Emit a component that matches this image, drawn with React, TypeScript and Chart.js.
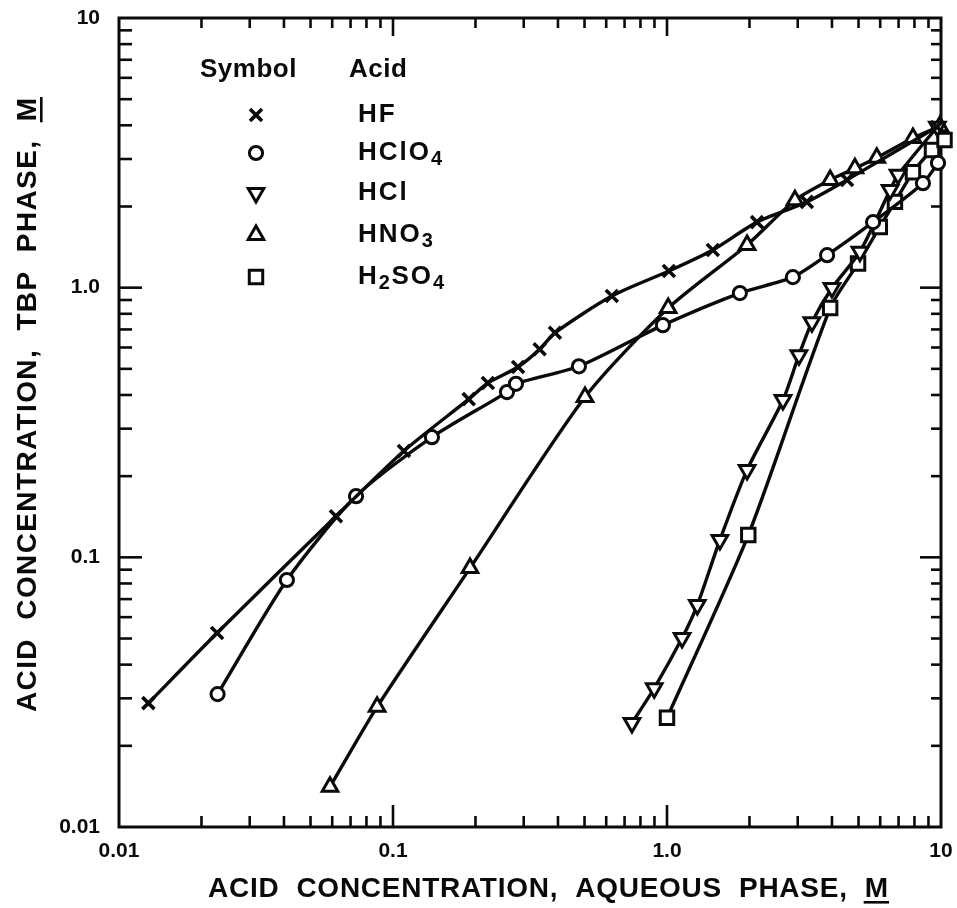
import React, { useEffect, useRef } from 'react';
import { Chart, registerables } from 'chart.js';

Chart.register(...registerables);

// ---------------- data ----------------
const hfX = [0.0128, 0.0228, 0.0619, 0.1096, 0.189, 0.222, 0.286, 0.343, 0.39, 0.629, 1.016, 1.47, 2.13, 3.24, 4.54, 9.66];
const hfY = [0.0288, 0.0524, 0.142, 0.248, 0.386, 0.443, 0.508, 0.591, 0.68, 0.931, 1.153, 1.38, 1.75, 2.08, 2.51, 3.94];

const hclo4X = [0.0229, 0.041, 0.0733, 0.1387, 0.2606, 0.281, 0.477, 0.966, 1.845, 2.88, 3.84, 5.65, 8.59, 9.75];
const hclo4Y = [0.0311, 0.0824, 0.1686, 0.279, 0.41, 0.44, 0.511, 0.726, 0.955, 1.094, 1.32, 1.75, 2.44, 2.9];

const hclX = [0.745, 0.898, 1.135, 1.29, 1.56, 1.96, 2.65, 3.03, 3.38, 4.0, 5.06, 6.52, 6.97, 9.7];
const hclY = [0.0243, 0.0327, 0.0502, 0.0665, 0.116, 0.211, 0.383, 0.562, 0.745, 0.997, 1.36, 2.3, 2.62, 3.95];

const hno3X = [0.0589, 0.0875, 0.191, 0.502, 1.01, 1.96, 2.93, 3.94, 4.85, 5.83, 7.9, 9.9];
const hno3Y = [0.0141, 0.0279, 0.0912, 0.393, 0.84, 1.44, 2.11, 2.51, 2.77, 3.03, 3.59, 3.97];

const h2so4X = [1.0, 1.98, 3.94, 4.98, 5.98, 6.79, 7.9, 9.27, 10.3];
const h2so4Y = [0.0254, 0.121, 0.84, 1.23, 1.68, 2.08, 2.68, 3.24, 3.53];

const seriesNames = ['HF', 'HClO_4', 'HCl', 'HNO_3', 'H_2SO_4'];
const legendHeaders = ['Symbol', 'Acid'];

const xTickValues = [0.01, 0.1, 1, 10];
const xTickLabels = ['0.01', '0.1', '1.0', '10'];
const yTickValues = [0.01, 0.1, 1, 10];
const yTickLabels = ['0.01', '0.1', '1.0', '10'];

const xTitle = 'ACID  CONCENTRATION,  AQUEOUS  PHASE,  M';
const yTitle = 'ACID  CONCENTRATION,  TBP  PHASE,  M';

// ---------------- styling ----------------
const FONT = '"Liberation Sans", "DejaVu Sans", Arial, sans-serif';
const INK = '#0a0a0a';

type Marker = { style: string; r: number; rot: number; bw: number };
const markers: Marker[] = [
  { style: 'crossRot', r: 8.5, rot: 0, bw: 3.6 },
  { style: 'circle', r: 6.6, rot: 0, bw: 3 },
  { style: 'triangle', r: 9, rot: 180, bw: 3 },
  { style: 'triangle', r: 9, rot: 0, bw: 3 },
  { style: 'rect', r: 9.5, rot: 0, bw: 3 },
];

const toPoints = (xs: number[], ys: number[]) => xs.map((x, i) => ({ x, y: ys[i] }));
const seriesData = [
  toPoints(hfX, hfY),
  toPoints(hclo4X, hclo4Y),
  toPoints(hclX, hclY),
  toPoints(hno3X, hno3Y),
  toPoints(h2so4X, h2so4Y),
];

function drawMarker(ctx: CanvasRenderingContext2D, m: Marker, x: number, y: number) {
  ctx.save();
  ctx.lineWidth = m.bw;
  ctx.strokeStyle = INK;
  ctx.fillStyle = '#fff';
  ctx.beginPath();
  if (m.style === 'circle') {
    ctx.arc(x, y, m.r, 0, Math.PI * 2);
  } else if (m.style === 'rect') {
    const s = Math.SQRT1_2 * m.r;
    ctx.rect(x - s, y - s, 2 * s, 2 * s);
  } else if (m.style === 'triangle') {
    let a = (m.rot * Math.PI) / 180;
    ctx.moveTo(x + Math.sin(a) * m.r, y - Math.cos(a) * m.r);
    a += (2 * Math.PI) / 3;
    ctx.lineTo(x + Math.sin(a) * m.r, y - Math.cos(a) * m.r);
    a += (2 * Math.PI) / 3;
    ctx.lineTo(x + Math.sin(a) * m.r, y - Math.cos(a) * m.r);
    ctx.closePath();
  } else {
    const d = Math.SQRT1_2 * m.r;
    ctx.moveTo(x - d, y - d);
    ctx.lineTo(x + d, y + d);
    ctx.moveTo(x - d, y + d);
    ctx.lineTo(x + d, y - d);
  }
  if (m.style !== 'crossRot') ctx.fill();
  ctx.stroke();
  ctx.restore();
}

// inward ticks and box frame
const framePlugin = {
  id: 'frame',
  beforeDatasetsDraw(chart: any) {
    const { ctx, chartArea: a, scales } = chart;
    const xs = scales.x;
    const ys = scales.y;
    ctx.save();
    ctx.strokeStyle = INK;
    ctx.lineCap = 'butt';
    ctx.lineWidth = 3;
    ctx.strokeRect(a.left, a.top, a.right - a.left, a.bottom - a.top);
    ctx.lineWidth = 2.6;
    const seg = (x1: number, y1: number, x2: number, y2: number) => {
      ctx.beginPath();
      ctx.moveTo(x1, y1);
      ctx.lineTo(x2, y2);
      ctx.stroke();
    };
    for (let d = -2; d <= 0; d++) {
      for (let k = 1; k <= 9; k++) {
        const v = k * Math.pow(10, d);
        const major = k === 1;
        const px = xs.getPixelForValue(v);
        const py = ys.getPixelForValue(v);
        if (px > a.left + 2) {
          seg(px, a.bottom, px, a.bottom - (major ? 22 : 11));
          seg(px, a.top, px, a.top + (major ? 18 : 10));
        }
        if (py < a.bottom - 2) {
          seg(a.left, py, a.left + (major ? 23 : 13), py);
          seg(a.right, py, a.right - (major ? 21 : 10), py);
        }
      }
    }
    ctx.restore();
  },
};

function drawFitted(
  ctx: CanvasRenderingContext2D,
  text: string,
  cx: number,
  baseline: number,
  target: number,
  rotate: boolean,
) {
  ctx.save();
  ctx.translate(cx, baseline);
  if (rotate) ctx.rotate(-Math.PI / 2);
  ctx.font = `bold 28px ${FONT}`;
  ctx.fillStyle = INK;
  ctx.textBaseline = 'alphabetic';
  ctx.textAlign = 'left';
  (ctx as any).letterSpacing = '0px';
  const w0 = ctx.measureText(text).width;
  let sx = 1;
  if (w0 > target) {
    sx = target / w0;
  } else {
    (ctx as any).letterSpacing = `${(target - w0) / (text.length - 1)}px`;
  }
  const w = Math.min(target, ctx.measureText(text).width);
  ctx.scale(sx, 1);
  const start = -w / 2 / sx;
  ctx.fillText(text, start, 0);
  // underline the final "M"
  const prefix = text.slice(0, -1);
  const pw = ctx.measureText(prefix).width;
  (ctx as any).letterSpacing = '0px';
  const mw = ctx.measureText(text.slice(-1)).width;
  ctx.fillRect(start + pw - 1, 4, mw + 2, 2.6);
  ctx.restore();
}

const titlesPlugin = {
  id: 'titles',
  afterDraw(chart: any) {
    const { ctx } = chart;
    drawFitted(ctx, xTitle, 548, 897, 680, false);
    drawFitted(ctx, yTitle, 36, 405, 614, true);
  },
};

function drawChem(ctx: CanvasRenderingContext2D, name: string, x: number, y: number) {
  let cx = x;
  for (let i = 0; i < name.length; i++) {
    const ch = name[i];
    if (ch === '_') {
      const sub = name[i + 1];
      ctx.font = `bold 20px ${FONT}`;
      ctx.fillText(sub, cx, y + 6);
      cx += ctx.measureText(sub).width + 1;
      i++;
    } else {
      ctx.font = `bold 26px ${FONT}`;
      ctx.fillText(ch, cx, y);
      cx += ctx.measureText(ch).width + 1.5;
    }
  }
}

const legendPlugin = {
  id: 'acidLegend',
  afterDraw(chart: any) {
    const { ctx } = chart;
    ctx.save();
    ctx.fillStyle = INK;
    ctx.textBaseline = 'middle';
    ctx.textAlign = 'left';
    ctx.font = `bold 26px ${FONT}`;
    (ctx as any).letterSpacing = '0.5px';
    ctx.fillText(legendHeaders[0], 200, 70);
    ctx.fillText(legendHeaders[1], 349, 70);
    const rows = [115, 153, 193, 235, 277];
    seriesNames.forEach((n, i) => {
      drawMarker(ctx, markers[i], 256, rows[i]);
      ctx.fillStyle = INK;
      drawChem(ctx, n, 358, rows[i]);
    });
    ctx.restore();
  },
};

export default function App() {
  const ref = useRef<HTMLCanvasElement | null>(null);

  useEffect(() => {
    document.body.style.margin = '0';
    const canvas = ref.current;
    if (!canvas) return;

    const datasets = seriesData.map((data, i) => ({
      label: seriesNames[i].replace(/_/g, ''),
      data,
      showLine: true,
      borderColor: INK,
      borderWidth: 3.4,
      tension: 0.25,
      backgroundColor: '#fff',
      pointBackgroundColor: '#fff',
      pointBorderColor: INK,
      pointStyle: markers[i].style,
      pointRadius: markers[i].r,
      pointRotation: markers[i].rot,
      pointBorderWidth: markers[i].bw,
      clip: false as any,
    }));

    const tickFont = { family: FONT, size: 21, weight: 'bold' as const };

    const chart = new Chart(canvas, {
      type: 'scatter',
      data: { datasets },
      options: {
        animation: false,
        responsive: false,
        devicePixelRatio: 1,
        layout: { padding: { left: 0, top: 18, right: 16, bottom: 0 } },
        plugins: {
          legend: { display: false },
          tooltip: { enabled: false },
        },
        scales: {
          x: {
            type: 'logarithmic',
            min: 0.01,
            max: 10,
            grid: { display: false, drawTicks: false },
            border: { display: false },
            afterBuildTicks: (s: any) => {
              s.ticks = xTickValues.map((v) => ({ value: v }));
            },
            afterFit: (s: any) => {
              s.height = 81;
              s.paddingLeft = 0;
              s.paddingRight = 0;
              s.paddingTop = 0;
              s.paddingBottom = 0;
            },
            ticks: {
              autoSkip: false,
              maxRotation: 0,
              padding: 12,
              color: INK,
              font: tickFont,
              callback: (_v: any, i: number) => xTickLabels[i],
            },
          },
          y: {
            type: 'logarithmic',
            min: 0.01,
            max: 10,
            grid: { display: false, drawTicks: false },
            border: { display: false },
            afterBuildTicks: (s: any) => {
              s.ticks = yTickValues.map((v) => ({ value: v }));
            },
            afterFit: (s: any) => {
              s.width = 119;
              s.paddingLeft = 0;
              s.paddingRight = 0;
              s.paddingTop = 0;
              s.paddingBottom = 0;
            },
            ticks: {
              autoSkip: false,
              padding: 19,
              color: INK,
              font: tickFont,
              callback: (_v: any, i: number) => yTickLabels[i],
            },
          },
        },
      } as any,
      plugins: [framePlugin, titlesPlugin, legendPlugin],
    });

    return () => chart.destroy();
  }, []);

  return (
    <div style={{ width: 957, height: 908, background: '#fff' }}>
      <canvas ref={ref} width={957} height={908} style={{ display: 'block' }} />
    </div>
  );
}
